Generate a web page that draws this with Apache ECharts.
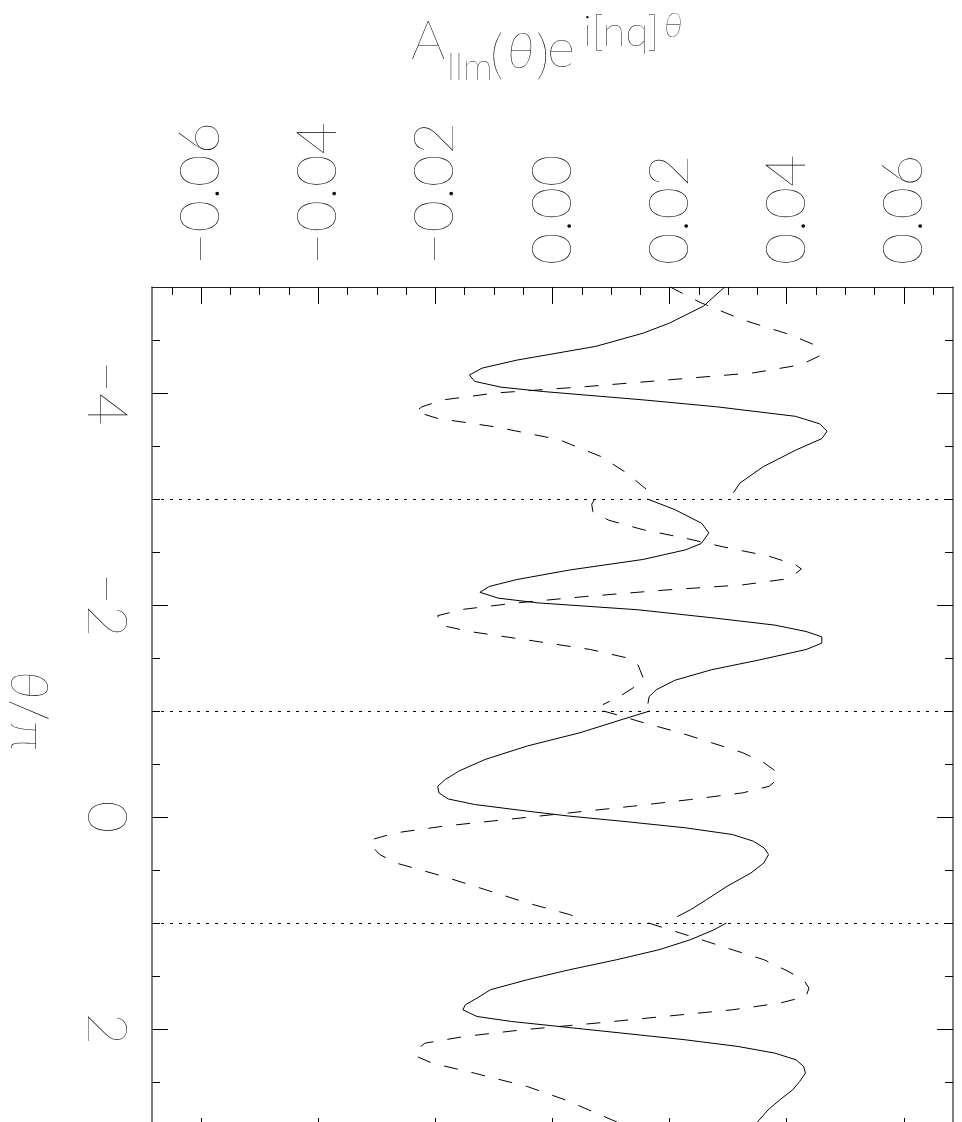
<!DOCTYPE html>
<html>
<head>
<meta charset="utf-8">
<script src="https://cdn.jsdelivr.net/npm/echarts@6/dist/echarts.min.js"></script>
<style>
  html, body { margin: 0; padding: 0; background: #fff; }
  #main { width: 962px; height: 1122px; }
</style>
</head>
<body>
<div id="main"></div>
<script>
// theta/pi samples and amplitudes, one block per 2*pi segment
var solidTheta1 = [-5.0, -4.82, -4.66, -4.565, -4.44, -4.31, -4.235, -4.17, -4.11, -4.055, -4.014, -3.935, -3.87, -3.78, -3.71, -3.64, -3.57, -3.46, -3.305, -3.15, -3.06];
var solidValue1 = [0.0294, 0.0258, 0.0200, 0.0155, 0.0074, -0.0061, -0.0120, -0.0142, -0.0133, -0.0088, -0.0016, 0.0155, 0.0280, 0.0415, 0.0456, 0.0469, 0.0460, 0.0415, 0.0360, 0.0320, 0.0309];
var dashTheta1 = [-5.0, -4.85, -4.69, -4.55, -4.455, -4.35, -4.266, -4.19, -4.12, -4.06, -4.0, -3.935, -3.87, -3.825, -3.76, -3.68, -3.56, -3.40, -3.24, -3.06];
var dashValue1 = [0.0201, 0.0254, 0.0325, 0.0406, 0.0447, 0.0456, 0.0424, 0.0343, 0.0190, 0.0056, -0.0097, -0.0187, -0.0223, -0.0234, -0.0196, -0.0097, 0.0011, 0.0083, 0.0128, 0.0167];

var solidTheta2 = [-3.0, -2.9, -2.77, -2.68, -2.58, -2.52, -2.43, -2.33, -2.24, -2.175, -2.12, -2.065, -2.02, -1.955, -1.875, -1.81, -1.75, -1.70, -1.64, -1.58, -1.48, -1.39, -1.29, -1.20, -1.135, -1.07];
var solidValue2 = [0.0162, 0.0209, 0.0255, 0.0267, 0.0254, 0.0227, 0.0155, 0.0029, -0.0061, -0.0108, -0.0124, -0.0093, -0.0025, 0.0146, 0.0280, 0.0380, 0.0433, 0.0460, 0.0460, 0.0433, 0.0352, 0.0272, 0.0209, 0.0177, 0.0165, 0.0163];
var dashTheta2 = [-3.0, -2.95, -2.88, -2.80, -2.71, -2.63, -2.55, -2.46, -2.38, -2.34, -2.25, -2.19, -2.14, -2.08, -2.02, -1.96, -1.90, -1.81, -1.75, -1.67, -1.58, -1.50, -1.435, -1.31, -1.23, -1.135, -1.06];
var dashValue2 = [0.0072, 0.0067, 0.0069, 0.0096, 0.0155, 0.0227, 0.0290, 0.0370, 0.0415, 0.0425, 0.0405, 0.0325, 0.0190, 0.0056, -0.0061, -0.0151, -0.0196, -0.0191, -0.0142, -0.0043, 0.0065, 0.0128, 0.0146, 0.0155, 0.0141, 0.0114, 0.0086];

var solidTheta3 = [-1.0, -0.92, -0.795, -0.67, -0.543, -0.433, -0.354, -0.29, -0.228, -0.17, -0.118, -0.055, -0.008, 0.04, 0.102, 0.165, 0.228, 0.29, 0.354, 0.433, 0.528, 0.654, 0.78, 0.874, 0.94];
var solidValue3 = [0.0166, 0.0119, 0.0047, -0.0043, -0.0115, -0.0160, -0.0183, -0.0196, -0.0194, -0.0178, -0.0133, -0.0043, 0.0029, 0.0119, 0.0227, 0.0307, 0.0343, 0.0361, 0.0369, 0.0361, 0.0339, 0.0298, 0.0263, 0.0236, 0.0213];
var dashTheta3 = [-1.0, -0.95, -0.89, -0.795, -0.70, -0.606, -0.512, -0.433, -0.354, -0.29, -0.228, -0.165, -0.102, -0.039, 0.024, 0.087, 0.15, 0.206, 0.25, 0.354, 0.433, 0.559, 0.685, 0.811, 0.92, 0.95];
var dashValue3 = [0.0087, 0.0119, 0.0155, 0.0218, 0.0272, 0.0325, 0.0361, 0.0381, 0.0384, 0.0370, 0.0325, 0.0236, 0.0137, 0.0029, -0.0079, -0.0187, -0.0268, -0.0304, -0.0313, -0.0295, -0.0268, -0.0187, -0.0115, -0.0043, 0.0029, 0.0043];

var solidTheta4 = [1.0, 1.063, 1.157, 1.252, 1.346, 1.441, 1.535, 1.63, 1.709, 1.772, 1.819, 1.882, 1.929, 1.976, 2.039, 2.102, 2.165, 2.228, 2.291, 2.354, 2.417, 2.496, 2.575, 2.669, 2.764, 2.877, 2.95];
var solidValue4 = [0.0297, 0.0276, 0.0236, 0.0182, 0.0110, 0.0029, -0.0043, -0.0106, -0.0129, -0.0149, -0.0153, -0.0129, -0.0070, 0.0011, 0.0119, 0.0227, 0.0317, 0.0380, 0.0416, 0.0429, 0.0432, 0.0422, 0.0410, 0.0388, 0.0368, 0.0350, 0.0338];
var dashTheta4 = [1.0, 1.063, 1.157, 1.252, 1.346, 1.441, 1.535, 1.614, 1.693, 1.756, 1.819, 1.882, 1.945, 2.008, 2.071, 2.134, 2.197, 2.254, 2.323, 2.417, 2.543, 2.669, 2.764, 2.877, 2.95];
var dashValue4 = [0.0164, 0.0200, 0.0254, 0.0307, 0.0361, 0.0397, 0.0429, 0.0438, 0.0433, 0.0388, 0.0307, 0.0190, 0.0074, -0.0052, -0.0151, -0.0218, -0.0232, -0.0234, -0.0205, -0.0133, -0.0043, 0.0022, 0.0062, 0.0110, 0.0135];

// segment boundaries (dotted lines)
var boundaryTheta = [-3, -1, 1];

// ticks
var valueMajorTicks = [-0.06, -0.04, -0.02, 0, 0.02, 0.04, 0.06];
var valueMinorTicks = [-0.065, -0.055, -0.05, -0.045, -0.035, -0.03, -0.025, -0.015, -0.01, -0.005,
                       0.005, 0.01, 0.015, 0.025, 0.03, 0.035, 0.045, 0.05, 0.055, 0.065];
var thetaMajorTicks = [-4, -2, 0, 2];
var thetaMinorTicks = [-4.5, -3.5, -3, -2.5, -1.5, -1, -0.5, 0.5, 1, 1.5, 2.5];

var FONT = 'Lato, Inter, "DejaVu Sans", sans-serif';
var LABEL_SIZE = 56;
var LABEL_WEIGHT = 200;
var valueMin = -0.0684, valueMax = 0.0684;

function pairs(thetas, values) {
    return thetas.map(function (t, i) { return [values[i], t]; });
}
function minus(s) { return String(s).replace('-', '\u2212'); }

var segments = [
    [solidTheta1, solidValue1, 'solid'], [dashTheta1, dashValue1, 'dash'],
    [solidTheta2, solidValue2, 'solid'], [dashTheta2, dashValue2, 'dash'],
    [solidTheta3, solidValue3, 'solid'], [dashTheta3, dashValue3, 'dash'],
    [solidTheta4, solidValue4, 'solid'], [dashTheta4, dashValue4, 'dash']
];

var series = segments.map(function (s) {
    return {
        type: 'line',
        xAxisIndex: 0,
        yAxisIndex: 0,
        data: pairs(s[0], s[1]),
        showSymbol: false,
        symbol: 'none',
        silent: true,
        lineStyle: {
            color: '#000',
            width: 1,
            type: s[2] === 'solid' ? 'solid' : [14, 14]
        }
    };
});
series[0].markLine = {
    silent: true,
    symbol: ['none', 'none'],
    label: { show: false },
    lineStyle: { color: '#000', width: 1, type: [3, 6] },
    data: boundaryTheta.map(function (t) { return { yAxis: t }; })
};

function valueAxis(pos, ticks, len, showLine, showLabel) {
    return {
        type: 'value',
        position: pos,
        min: valueMin,
        max: valueMax,
        splitLine: { show: false },
        axisLine: { show: showLine, onZero: false, lineStyle: { color: '#222', width: 1 } },
        axisTick: { show: true, inside: true, length: len, customValues: ticks, lineStyle: { color: '#000', width: 1 } },
        axisLabel: {
            show: showLabel,
            customValues: valueMajorTicks,
            rotate: -90,
            margin: 22,
            padding: [8, 0, 0, 0],
            color: '#000',
            fontFamily: FONT,
            fontWeight: LABEL_WEIGHT,
            fontSize: LABEL_SIZE,
            formatter: function (v) { return minus(v.toFixed(2)); }
        }
    };
}

function thetaAxis(pos, ticks, len, showLine, showLabel) {
    var ax = {
        type: 'value',
        position: pos,
        inverse: true,
        min: -5,
        max: 3,
        splitLine: { show: false },
        axisLine: { show: showLine, onZero: false, lineStyle: { color: '#555', width: 1.5 } },
        axisTick: { show: true, inside: true, length: len, customValues: ticks, lineStyle: { color: '#000', width: 1 } },
        axisLabel: {
            show: showLabel,
            customValues: thetaMajorTicks,
            rotate: -90,
            margin: 18,
            color: '#000',
            fontFamily: FONT,
            fontWeight: LABEL_WEIGHT,
            fontSize: LABEL_SIZE,
            formatter: function (v) { return minus(v); }
        }
    };
    if (showLabel) {
        ax.name = '{i|θ}/π';
        ax.nameLocation = 'middle';
        ax.nameRotate = -90;
        ax.nameGap = 98;
        ax.nameTextStyle = {
            color: '#000', fontFamily: FONT, fontWeight: LABEL_WEIGHT, fontSize: 52,
            rich: { i: { fontStyle: 'italic', fontFamily: FONT, fontWeight: LABEL_WEIGHT, fontSize: 52, color: '#000' } }
        };
    }
    return ax;
}

var titleFont = { fontFamily: FONT, fontWeight: LABEL_WEIGHT, fill: '#000' };
function tx(text, x, y, size, italic) {
    return {
        type: 'text', x: x, y: y, silent: true,
        style: Object.assign({ text: text, fontSize: size, fontStyle: italic ? 'italic' : 'normal',
                               verticalAlign: 'middle', align: 'left' }, titleFont)
    };
}

var myChart = echarts.init(document.getElementById('main'), null, { renderer: 'canvas' });
var option = {
    backgroundColor: '#fff',
    animation: false,
    grid: { left: 152, right: 9, top: 287, bottom: -13, containLabel: false, outerBoundsMode: 'none' },
    xAxis: [
        valueAxis('top', valueMajorTicks, 17, true, true),
        valueAxis('top', valueMinorTicks, 8, false, false),
        valueAxis('bottom', valueMajorTicks, 17, true, false),
        valueAxis('bottom', valueMinorTicks, 8, false, false)
    ],
    yAxis: [
        thetaAxis('left', thetaMinorTicks, 8, true, true),
        thetaAxis('left', thetaMajorTicks, 16, false, false),
        thetaAxis('right', thetaMinorTicks, 8, true, false),
        thetaAxis('right', thetaMajorTicks, 16, false, false)
    ],
    graphic: [
        tx('A', 411, 42, 54, false),
        tx('llm', 447, 68, 38, false),
        tx('(', 490, 56, 54, false),
        tx('θ', 507, 52, 50, true),
        tx(')', 536, 56, 54, false),
        tx('e', 547, 50, 54, false),
        tx('i[nq]', 583, 32, 42, false),
        tx('θ', 664, 26, 34, true)
    ],
    series: series
};
myChart.setOption(option);
window.addEventListener('resize', function () {
    myChart.resize();
});
</script>
</body>
</html>
